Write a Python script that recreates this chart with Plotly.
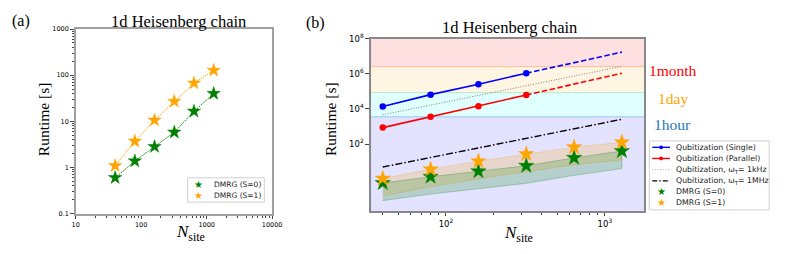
import plotly.graph_objects as go

W, H = 789, 254

# ---------------- data ----------------
n_site = [40, 80, 160, 320, 640, 1280]
dmrg_s0 = [0.60, 1.38, 2.83, 5.8, 16.5, 40]
dmrg_s1 = [1.09, 3.7, 10.6, 27, 67, 127]
dmrg_s0_low = [0.060, 0.14, 0.28, 0.58, 1.65, 4.0]
dmrg_s1_low = [0.11, 0.37, 1.06, 2.7, 6.7, 12.7]

n_qubit = [40, 80, 160, 320]
qub_single = [1.4e4, 6.6e4, 2.6e5, 1.1e6]
qub_parallel = [870, 3.6e3, 1.45e4, 6.3e4]
n_extrap = [320, 640, 1280]
qub_single_extrap = [1.1e6, 4.5e6, 1.75e7]
qub_parallel_extrap = [6.3e4, 2.6e5, 1.1e6]
n_rate = [40, 1280]
qub_1khz = [4.7e3, 2.7e6]
qub_1mhz = [4.9, 2.6e3]

time_labels = ["1month", "1day", "1hour"]
time_seconds = [2.592e6, 8.64e4, 3.6e3]

a_xticks = [10, 100, 1000, 10000]
a_yticks = [0.1, 1, 10, 100, 1000]
b_yticks = [1e2, 1e4, 1e6, 1e8]
b_xticks = [1e2, 1e3]

GREEN = "#008000"
ORANGE = "#FFA500"
SERIF = "Liberation Serif"
SANS = "DejaVu Sans"


def px(x):
    return x / W


def py(y):
    return 1 - y / H


fig = go.Figure()

# ---------------- panel (a) ----------------
fig.add_trace(go.Scatter(x=n_site, y=dmrg_s0, mode="lines+markers", name="DMRG (S=0)",
                         line=dict(color=GREEN, width=1, dash="1.5px,1px"),
                         marker=dict(symbol="star", size=10, color=GREEN,
                                     line=dict(color=GREEN, width=0.5)),
                         xaxis="x", yaxis="y", showlegend=False))
fig.add_trace(go.Scatter(x=n_site, y=dmrg_s1, mode="lines+markers", name="DMRG (S=1)",
                         line=dict(color=ORANGE, width=1, dash="1.5px,1px"),
                         marker=dict(symbol="star", size=10, color=ORANGE,
                                     line=dict(color=ORANGE, width=0.5)),
                         xaxis="x", yaxis="y", showlegend=False))

# ---------------- panel (b) ----------------
fig.add_trace(go.Scatter(x=n_site + n_site[::-1], y=dmrg_s1 + dmrg_s1_low[::-1],
                         fill="toself", fillcolor="rgba(255,165,0,0.2)", mode="lines",
                         line=dict(color="rgba(255,165,0,0.35)", width=0.8),
                         xaxis="x2", yaxis="y2", showlegend=False, hoverinfo="skip"))
fig.add_trace(go.Scatter(x=n_site + n_site[::-1], y=dmrg_s0 + dmrg_s0_low[::-1],
                         fill="toself", fillcolor="rgba(0,128,0,0.2)", mode="lines",
                         line=dict(color="rgba(0,128,0,0.35)", width=0.8),
                         xaxis="x2", yaxis="y2", showlegend=False, hoverinfo="skip"))

fig.add_trace(go.Scatter(x=n_qubit, y=qub_single, mode="lines+markers", name="Qubitization (Single)",
                         line=dict(color="#0000ff", width=1.6), marker=dict(size=6.5, color="#0000ff"),
                         xaxis="x2", yaxis="y2", showlegend=False))
fig.add_trace(go.Scatter(x=n_extrap, y=qub_single_extrap, mode="lines",
                         line=dict(color="#0000ff", width=1.6, dash="5.5px,2.5px"),
                         xaxis="x2", yaxis="y2", showlegend=False))
fig.add_trace(go.Scatter(x=n_qubit, y=qub_parallel, mode="lines+markers", name="Qubitization (Parallel)",
                         line=dict(color="#ff0000", width=1.6), marker=dict(size=6.5, color="#ff0000"),
                         xaxis="x2", yaxis="y2", showlegend=False))
fig.add_trace(go.Scatter(x=n_extrap, y=qub_parallel_extrap, mode="lines",
                         line=dict(color="#ff0000", width=1.6, dash="5.5px,2.5px"),
                         xaxis="x2", yaxis="y2", showlegend=False))
fig.add_trace(go.Scatter(x=n_rate, y=qub_1khz, mode="lines", name="Qubitization, ω_T= 1kHz",
                         line=dict(color="gray", width=1, dash="1px,1.6px"),
                         xaxis="x2", yaxis="y2", showlegend=False))
fig.add_trace(go.Scatter(x=n_rate, y=qub_1mhz, mode="lines", name="Qubitization, ω_T= 1MHz",
                         line=dict(color="black", width=1.4, dash="7px,2.2px,1.5px,2.2px"),
                         xaxis="x2", yaxis="y2", showlegend=False))
fig.add_trace(go.Scatter(x=n_site, y=dmrg_s0, mode="markers", name="DMRG (S=0)",
                         marker=dict(symbol="star", size=11.5, color=GREEN,
                                     line=dict(color=GREEN, width=0.5)),
                         xaxis="x2", yaxis="y2", showlegend=False))
fig.add_trace(go.Scatter(x=n_site, y=dmrg_s1, mode="markers", name="DMRG (S=1)",
                         marker=dict(symbol="star", size=11.5, color=ORANGE,
                                     line=dict(color=ORANGE, width=0.5)),
                         xaxis="x2", yaxis="y2", showlegend=False))

shapes = []
annotations = []

# background time-scale spans in panel (b)
span_bounds = [1e9] + time_seconds + [1e-3]
span_fill = ["rgba(255,0,0,0.12)", "rgba(255,165,0,0.11)", "rgba(0,255,255,0.12)", "rgba(0,0,255,0.11)"]
span_line = ["rgba(255,0,0,0.15)", "rgba(255,165,0,0.2)", "rgba(0,220,220,0.2)", "rgba(0,0,255,0.15)"]
for i in range(4):
    shapes.append(dict(type="rect", xref="x2 domain", yref="y2", x0=0, x1=1,
                       y0=span_bounds[i + 1], y1=span_bounds[i],
                       fillcolor=span_fill[i], line=dict(color=span_line[i], width=1), layer="below"))

# time-scale labels
time_colors = ["#ff0000", ORANGE, "#1f77b4"]
time_label_y = [66, 96, 123]
for lab, col, yy in zip(time_labels, time_colors, time_label_y):
    annotations.append(dict(text=lab, x=px(681), y=py(yy), xref="paper", yref="paper",
                            showarrow=False, xanchor="center", yanchor="middle",
                            font=dict(family=SERIF, size=15.5, color=col)))

# titles and panel labels
for txt, x, y, size in [("1d Heisenberg chain", 178, 15, 16.5),
                        ("1d Heisenberg chain", 515, 21, 16.5),
                        ("(a)", 17, 15, 16), ("(b)", 317, 17, 16)]:
    annotations.append(dict(text=txt, x=px(x), y=py(y), xref="paper", yref="paper",
                            showarrow=False, xanchor="center", yanchor="middle",
                            font=dict(family=SERIF, size=size, color="black")))

# axis titles
for x, y in [(41, 117), (333, 117)]:
    annotations.append(dict(text="Runtime [s]", x=px(x), y=py(y), xref="paper", yref="paper",
                            showarrow=False, textangle=-90, xanchor="center", yanchor="middle",
                            font=dict(family=SERIF, size=15.5, color="black")))
for x, y in [(190, 236), (524, 237)]:
    annotations.append(dict(text="<i>N</i><sub>site</sub>", x=px(x), y=py(y), xref="paper", yref="paper",
                            showarrow=False, xanchor="center", yanchor="middle",
                            font=dict(family=SERIF, size=17, color="black")))

# ---- legend (a) (drawn manually for compact spacing) ----
shapes.append(dict(type="rect", xref="paper", yref="paper", x0=px(187), x1=px(265), y0=py(204), y1=py(178.5),
                   fillcolor="rgba(255,255,255,0.85)", line=dict(color="#d0d0d0", width=1), layer="above"))
for lab, col, yy in [("DMRG (S=0)", GREEN, 185.5), ("DMRG (S=1)", ORANGE, 197)]:
    annotations.append(dict(text="★", x=px(198.5), y=py(yy), xref="paper", yref="paper", showarrow=False,
                            xanchor="center", yanchor="middle", font=dict(family=SANS, size=10, color=col)))
    annotations.append(dict(text=lab, x=px(211.5), y=py(yy), xref="paper", yref="paper", showarrow=False,
                            xanchor="left", yanchor="middle", font=dict(family=SANS, size=7.5, color="#222")))

# ---- legend (b) ----
shapes.append(dict(type="rect", xref="paper", yref="paper", x0=px(657), x1=px(779), y0=py(212), y1=py(140),
                   fillcolor="rgba(255,255,255,0.9)", line=dict(color="#d0d0d0", width=1), layer="above"))
leg_rows = [146.7, 158.3, 170, 181.7, 193.3, 204.7]
leg_text = ["Qubitization (Single)", "Qubitization (Parallel)",
            "Qubitization, ω<sub>T</sub>= 1kHz", "Qubitization, ω<sub>T</sub>= 1MHz",
            "DMRG (S=0)", "DMRG (S=1)"]
leg_line = [("#0000ff", "solid", 1.4), ("#ff0000", "solid", 1.4), ("#aaaaaa", "1px,1.6px", 1),
            ("black", "5px,2px,1.5px,2px", 1.2)]
for i, yy in enumerate(leg_rows):
    if i < 4:
        col, dash, wdt = leg_line[i]
        shapes.append(dict(type="line", xref="paper", yref="paper", x0=px(660), x1=px(678),
                           y0=py(yy), y1=py(yy), line=dict(color=col, width=wdt, dash=dash), layer="above"))
        if i < 2:
            shapes.append(dict(type="circle", xref="paper", yref="paper", x0=px(667), x1=px(671),
                               y0=py(yy + 2), y1=py(yy - 2), fillcolor=col, line=dict(color=col, width=0),
                               layer="above"))
    else:
        col = GREEN if i == 4 else ORANGE
        annotations.append(dict(text="★", x=px(669), y=py(yy), xref="paper", yref="paper", showarrow=False,
                                xanchor="center", yanchor="middle", font=dict(family=SANS, size=10, color=col)))
    annotations.append(dict(text=leg_text[i], x=px(682), y=py(yy), xref="paper", yref="paper", showarrow=False,
                            xanchor="left", yanchor="middle", font=dict(family=SANS, size=7.8, color="#222")))

minor_a_x = [v * m for v in [10, 100, 1000] for m in range(2, 10)]
minor_a_y = [v * m for v in [0.1, 1, 10, 100] for m in range(2, 10)]
minor_b_x = [v * m for v in [10, 100, 1000] for m in range(2, 10)]

fig.update_layout(
    width=W, height=H, autosize=False,
    margin=dict(l=0, r=0, t=0, b=0),
    paper_bgcolor="white", plot_bgcolor="white",
    showlegend=False,
    xaxis=dict(type="log", range=[1, 4], domain=[px(73), px(273)], anchor="y",
               tickmode="array", tickvals=a_xticks, ticktext=[str(v) for v in a_xticks],
               ticks="outside", ticklen=3.5, tickcolor="#444", tickwidth=0.8,
               tickfont=dict(family=SANS, size=6.5, color="black"),
               showline=True, mirror=True, linecolor="#a0a0a0", linewidth=2,
               showgrid=False, zeroline=False,
               minor=dict(tickmode="array", tickvals=minor_a_x, ticks="outside", ticklen=2,
                          tickcolor="#444", tickwidth=0.6, showgrid=False)),
    yaxis=dict(type="log", range=[-1, 3], domain=[py(216), py(23)], anchor="x",
               tickmode="array", tickvals=a_yticks, ticktext=["0.1", "1", "10", "100", "1000"],
               ticks="outside", ticklen=3.5, tickcolor="#444", tickwidth=0.8,
               tickfont=dict(family=SANS, size=6.5, color="black"),
               showline=True, mirror=True, linecolor="#a0a0a0", linewidth=2,
               showgrid=False, zeroline=False,
               minor=dict(tickmode="array", tickvals=minor_a_y, ticks="outside", ticklen=2,
                          tickcolor="#444", tickwidth=0.6, showgrid=False)),
    xaxis2=dict(type="log", range=[1.526, 3.249], domain=[px(373.3), px(652)], anchor="y2",
                tickmode="array", tickvals=b_xticks, ticktext=["10<sup>2</sup>", "10<sup>3</sup>"],
                ticks="outside", ticklen=3.5, tickcolor="#444", tickwidth=0.8,
                tickfont=dict(family=SANS, size=8.5, color="black"),
                showline=True, mirror=True, linecolor="#888888", linewidth=1.5,
                showgrid=False, zeroline=False,
                minor=dict(tickmode="array", tickvals=minor_b_x, ticks="outside", ticklen=2,
                           tickcolor="#444", tickwidth=0.6, showgrid=False)),
    yaxis2=dict(type="log", range=[-1.82, 8], domain=[py(213.3), py(33.3)], anchor="x2",
                tickmode="array", tickvals=b_yticks,
                ticktext=["10<sup>2</sup>", "10<sup>4</sup>", "10<sup>6</sup>", "10<sup>8</sup>"],
                ticks="outside", ticklen=3.5, tickcolor="#444", tickwidth=0.8,
                tickfont=dict(family=SANS, size=8.5, color="black"),
                showline=True, mirror=True, linecolor="#888888", linewidth=1.5,
                showgrid=False, zeroline=False),
    shapes=shapes,
    annotations=annotations,
)

fig.write_html("out.html", include_plotlyjs=True, full_html=True,
               config={"displayModeBar": False},
               post_script="document.body.style.margin='0';document.body.style.overflow='hidden';")
